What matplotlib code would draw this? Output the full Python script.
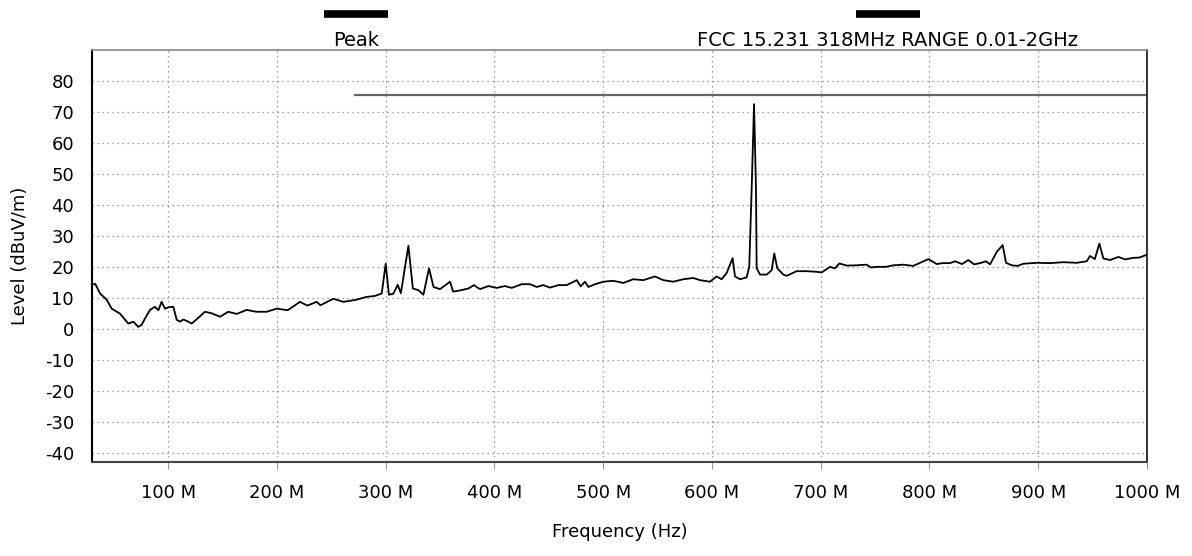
import matplotlib
matplotlib.use("Agg")
import matplotlib.pyplot as plt
from matplotlib.lines import Line2D

# ---- data ----
freq_mhz = [30, 33, 37.4, 43.5, 48.1, 55.7, 63.4, 68, 72.6, 75.7, 78.7, 83.3, 87.9, 91, 94, 97.1,
            101, 104.8, 107.9, 110.9, 114, 118, 121.7, 126, 133.9, 140, 147.7, 155.3, 163, 172.2,
            181, 190.6, 199.8, 210, 221.2, 228, 236.6, 240, 251.9, 261.1, 272, 282.6, 290, 296.4,
            300, 303, 307, 311.1, 314, 320.9, 325, 330, 334.7, 339.9, 344, 350, 359.2, 362, 370,
            376, 381.2, 386.7, 394.4, 402.1, 409.7, 415.9, 425.1, 432.7, 438.9, 445, 451.1, 458.8,
            466.5, 475.7, 479.3, 483.3, 486.4, 492.5, 500.2, 509.3, 518.5, 527.7, 536.9, 547.6,
            555.3, 564.5, 573.7, 582.9, 589, 598.2, 604.3, 608.9, 613.5, 619, 621.2, 625.8, 631.9,
            634.3, 636.5, 638.7, 640.5, 641.1, 644.2, 650.3, 654.9, 657.3, 660.1, 665.6, 668.7,
            677.9, 687.1, 696.3, 700.9, 708.6, 713, 717.1, 723.9, 733.1, 742.3, 746, 751.5, 760,
            766.8, 776, 785, 791.3, 799, 806.7, 812, 818.9, 823.5, 830, 835.7, 841, 846.5, 852,
            855.7, 861.8, 867.3, 870.4, 875.6, 881, 886.3, 898.6, 910.8, 923.1, 935.4, 944.6,
            947.6, 952, 956.2, 959.9, 966, 973.7, 980, 987.4, 993, 999, 1000]
level_dbuv = [14.2, 14.5, 11.4, 9.4, 6.5, 4.9, 1.7, 2.3, 0.6, 1.3, 3.3, 6.1, 7.1, 6.0, 8.7, 6.5,
              7.0, 7.1, 2.9, 2.3, 3.0, 2.4, 1.7, 3.0, 5.5, 5.0, 3.9, 5.5, 4.8, 6.1,
              5.5, 5.5, 6.5, 6.0, 8.7, 7.5, 8.7, 7.6, 9.7, 8.7, 9.3, 10.3, 10.6, 11.4,
              21.0, 11.0, 11.3, 14.2, 11.5, 26.8, 13.0, 12.5, 11.0, 19.5, 13.5, 12.8, 15.2, 12.0, 12.5,
              13.0, 14.1, 12.8, 13.8, 13.2, 13.8, 13.2, 14.4, 14.4, 13.5, 14.1, 13.3, 14.1,
              14.1, 15.7, 13.7, 15.2, 13.5, 14.4, 15.2, 15.5, 14.8, 16.0, 15.7, 16.9,
              15.7, 15.2, 16.0, 16.4, 15.7, 15.2, 16.9, 16.0, 18.0, 22.8, 16.9, 16.0, 16.6,
              20.0, 45.0, 72.5, 45.0, 19.5, 17.5, 17.5, 18.9, 24.3, 19.5, 17.5, 17.1,
              18.6, 18.6, 18.4, 18.2, 20.0, 19.5, 21.1, 20.4, 20.5, 20.7, 19.8, 20.0, 20.0,
              20.5, 20.7, 20.3, 21.3, 22.5, 20.9, 21.2, 21.2, 21.8, 20.9, 22.2, 20.8, 21.2, 21.8,
              20.8, 24.8, 27.0, 21.3, 20.5, 20.3, 21.0, 21.3, 21.2, 21.5, 21.3, 21.8,
              23.5, 22.5, 27.5, 22.7, 22.2, 23.2, 22.4, 22.9, 23.0, 23.8, 23.8]
limit_freq = [272, 1000]
limit_level = [75.6, 75.6]
x_ticks = [100, 200, 300, 400, 500, 600, 700, 800, 900, 1000]
x_tick_labels = ["100 M", "200 M", "300 M", "400 M", "500 M", "600 M", "700 M", "800 M", "900 M", "1000 M"]
y_ticks = [80, 70, 60, 50, 40, 30, 20, 10, 0, -10, -20, -30, -40]
series_names = ["Peak", "FCC 15.231 318MHz RANGE 0.01-2GHz"]

FS = 13
W, H = 1192, 556
plt.rcParams['font.family'] = ['DejaVu Sans']
fig = plt.figure(figsize=(W / 100, H / 100), dpi=100)
L, R, T, B = 92, 1147, 50, 462
ax = fig.add_axes([L / W, 1 - B / H, (R - L) / W, (B - T) / H])

ax.set_xlim(30, 1000)
ax.set_ylim(-43, 90)

# grid
for xv in x_ticks:
    ax.axvline(xv, color="#808080", lw=0.9, ls=(0, (1, 3)), zorder=1)
for yv in y_ticks:
    ax.axhline(yv, color="#808080", lw=0.9, ls=(0, (1, 3)), zorder=1)

ax.plot(limit_freq, limit_level, color="#666666", lw=1.6, zorder=2)
ax.plot(freq_mhz, level_dbuv, color="black", lw=1.3, zorder=3)

ax.set_xticks(x_ticks)
ax.set_xticklabels(x_tick_labels, fontsize=FS)
ax.set_yticks(y_ticks)
ax.set_yticklabels([str(v) for v in y_ticks], fontsize=FS)
ax.tick_params(axis="x", length=5, width=0.8, color="#999999", pad=11)
ax.tick_params(axis="y", length=0, pad=13)

ax.spines["left"].set_color("black")
ax.spines["left"].set_linewidth(1.5)
ax.spines["right"].set_color("#222222")
ax.spines["right"].set_linewidth(1.3)
ax.spines["top"].set_color("#888888")
ax.spines["top"].set_linewidth(1.2)
ax.spines["bottom"].set_color("#444444")
ax.spines["bottom"].set_linewidth(1.5)

ax.set_xlabel("Frequency (Hz)", fontsize=FS, labelpad=15)
ax.set_ylabel("Level (dBuV/m)", fontsize=FS, labelpad=11)

# legend (bars above labels)
legend_items = [(356, series_names[0]), (888, series_names[1])]
for cx, name in legend_items:
    fig.add_artist(Line2D([(cx - 32) / W, (cx + 32) / W], [1 - 14 / H, 1 - 14 / H],
                          color="black", lw=5.5, transform=fig.transFigure, solid_capstyle="butt"))
    fig.text(cx / W, 1 - 40 / H, name, ha="center", va="center", fontsize=14)

fig.savefig("out.png", dpi=100)
